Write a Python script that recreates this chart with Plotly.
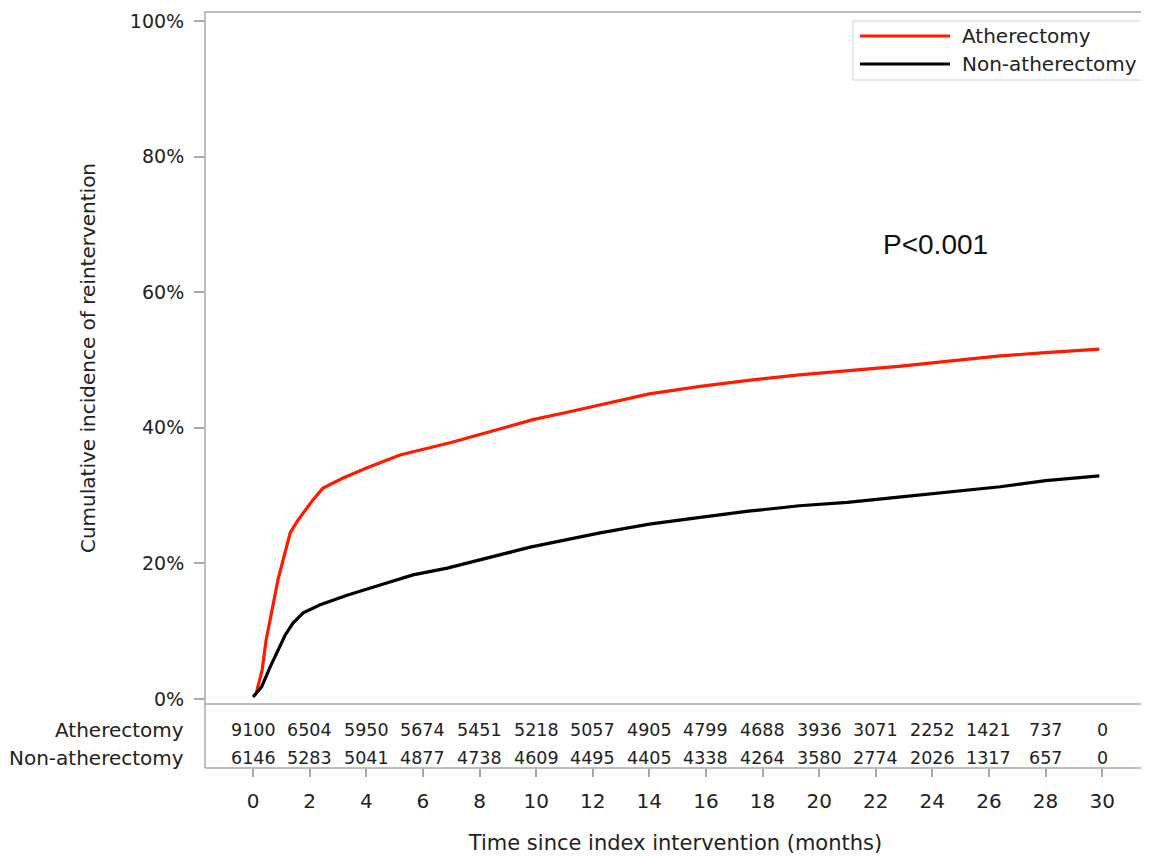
import plotly.graph_objects as go

# ---- data ----
series_names = ["Atherectomy", "Non-atherectomy"]
series_colors = ["#ff1a00", "#000000"]

ather_t = [0.12, 0.32, 0.46, 0.67, 0.88, 1.06, 1.31, 1.59, 2.12, 2.47, 3.18, 4.03,
           5.19, 6.96, 8.13, 9.89, 11.1, 12.26, 14.0, 15.8, 17.5, 19.3, 21.0, 22.9,
           24.5, 26.4, 28.0, 29.9]
ather_v = [1.0, 4.3, 8.7, 13.1, 17.6, 20.5, 24.5, 26.4, 29.4, 31.1, 32.6, 34.1,
           36.0, 37.8, 39.2, 41.2, 42.3, 43.4, 45.0, 46.1, 47.0, 47.8, 48.4, 49.1,
           49.8, 50.6, 51.1, 51.6]

non_t = [0.0, 0.3, 0.6, 0.88, 1.13, 1.41, 1.77, 2.37, 3.32, 4.49, 5.65, 6.86, 8.02,
         9.19, 9.79, 12.26, 14.0, 15.8, 17.5, 19.3, 21.0, 22.9, 24.5, 26.4, 28.0, 29.9]
non_v = [0.3, 1.8, 4.7, 7.2, 9.4, 11.2, 12.7, 13.9, 15.3, 16.8, 18.3, 19.3, 20.5,
         21.7, 22.4, 24.5, 25.8, 26.8, 27.7, 28.5, 29.0, 29.8, 30.5, 31.3, 32.2, 32.9]

x_ticks = list(range(0, 31, 2))
y_ticks = [0, 20, 40, 60, 80, 100]
y_ticktext = ["0%", "20%", "40%", "60%", "80%", "100%"]

risk_ather = [9100, 6504, 5950, 5674, 5451, 5218, 5057, 4905, 4799, 4688, 3936,
              3071, 2252, 1421, 737, 0]
risk_non = [6146, 5283, 5041, 4877, 4738, 4609, 4495, 4405, 4338, 4264, 3580,
            2774, 2026, 1317, 657, 0]

p_text = "P<0.001"
x_title = "Time since index intervention (months)"
y_title = "Cumulative incidence of reintervention"

# ---- figure ----
FONT = "DejaVu Sans"
TXT = "#222222"
GRAY = "#a8a8a8"

fig = go.Figure()
for t, v, name, col in [(ather_t, ather_v, series_names[0], series_colors[0]),
                        (non_t, non_v, series_names[1], series_colors[1])]:
    fig.add_trace(go.Scatter(x=t, y=v, mode="lines", name=name,
                             line=dict(color=col, width=3.2), showlegend=False))

# page body has an 8px margin; size the figure so it fills the window exactly
W, H = 1141, 849
L, R, T, B = 197, 3, 4, 89
plot_h = H - T - B          # 756
plot_w = W - L - R          # 941
split = (768 - 704) / plot_h  # boundary between curve panel and at-risk table


def px_x(px):  # reference-window pixel -> paper x
    return (px - 205) / plot_w


def px_y(py):  # reference-window pixel -> paper y
    return (768 - py) / plot_h


fig.update_layout(
    width=W, height=H,
    margin=dict(l=L, r=R, t=T, b=B),
    paper_bgcolor="white", plot_bgcolor="white",
    font=dict(family=FONT, color=TXT, size=19),
    xaxis=dict(range=[-1.70, 31.55], tickvals=x_ticks, ticks="outside", ticklen=8,
               tickcolor=GRAY, tickwidth=1.5, showgrid=False, zeroline=False,
               showline=False, anchor="free", position=0, ticklabelstandoff=7,
               tickfont=dict(size=20, family=FONT, color=TXT),
               title=dict(text=x_title, font=dict(size=21, family=FONT, color=TXT),
                          standoff=23)),
    yaxis=dict(range=[-0.74, 101.33], domain=[split, 1], tickvals=y_ticks,
               ticktext=y_ticktext, ticks="outside", ticklen=10, tickcolor=GRAY,
               tickwidth=1.5, showgrid=False, zeroline=False, showline=False,
               ticklabelstandoff=6,
               tickfont=dict(size=19, family=FONT, color=TXT),
               title=dict(text=y_title, font=dict(size=20, family=FONT, color=TXT),
                          standoff=28)),
)

shapes = [
    dict(type="rect", xref="paper", yref="paper", x0=0, x1=1, y0=split, y1=1,
         line=dict(color=GRAY, width=1.5)),
    dict(type="line", xref="paper", yref="paper", x0=0, x1=0, y0=0, y1=split,
         line=dict(color=GRAY, width=1.5)),
    dict(type="line", xref="paper", yref="paper", x0=0, x1=px_x(1149), y0=0, y1=0,
         line=dict(color=GRAY, width=1.5)),
]

# manual legend (long line samples as in the reference)
shapes.append(dict(type="rect", xref="paper", yref="paper",
                   x0=px_x(853), x1=px_x(1142), y0=px_y(80), y1=px_y(21),
                   line=dict(color="#d0d0d0", width=1), fillcolor="white"))
annotations = []
for i, (name, col) in enumerate(zip(series_names, series_colors)):
    ly = 36 + i * 28
    shapes.append(dict(type="line", xref="paper", yref="paper",
                       x0=px_x(860), x1=px_x(950), y0=px_y(ly), y1=px_y(ly),
                       line=dict(color=col, width=3.2)))
    annotations.append(dict(xref="paper", yref="paper", x=px_x(960), y=px_y(ly),
                            text=name, showarrow=False, xanchor="left", yanchor="middle",
                            font=dict(size=20, family=FONT, color=TXT)))

# at-risk table
for row_y, name, vals in [(730, series_names[0], risk_ather), (758, series_names[1], risk_non)]:
    annotations.append(dict(xref="paper", yref="paper", x=px_x(186), y=px_y(row_y),
                            text=name, showarrow=False, xanchor="right", yanchor="middle",
                            font=dict(size=20, family=FONT, color=TXT)))
    for t, v in zip(x_ticks, vals):
        annotations.append(dict(xref="x", yref="paper", x=t, y=px_y(row_y),
                                text=str(v), showarrow=False, xanchor="center",
                                yanchor="middle",
                                font=dict(size=17.5, family=FONT, color=TXT)))

# p-value
annotations.append(dict(xref="paper", yref="paper", x=px_x(935), y=px_y(244),
                        text=p_text, showarrow=False, xanchor="center", yanchor="middle",
                        font=dict(size=28, family="Liberation Sans, Arial", color="#111111")))

fig.update_layout(shapes=shapes, annotations=annotations)
fig.write_html("out.html")
